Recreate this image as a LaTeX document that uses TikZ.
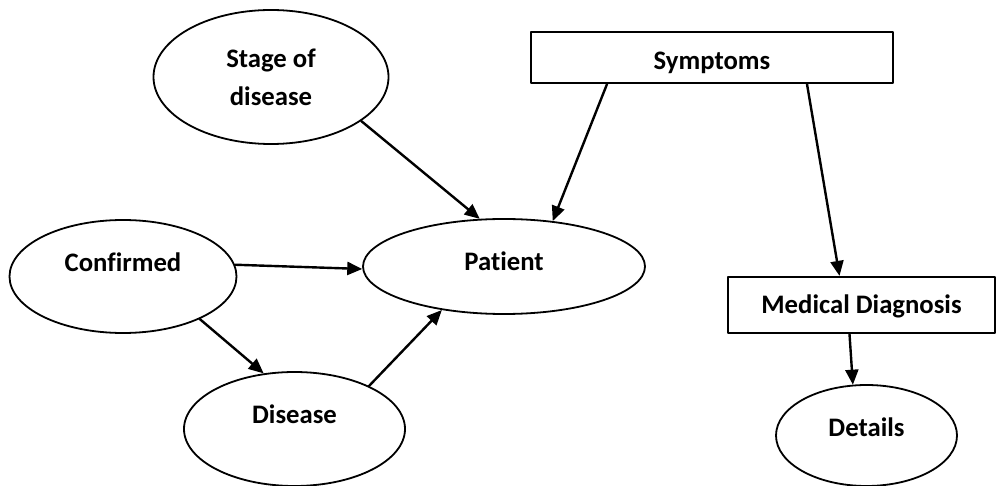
\documentclass[tikz,border=0pt]{standalone}
\usepackage{fontspec}
\setmainfont{Carlito}[Ligatures=NoCommon]
\usetikzlibrary{arrows.meta,shapes.geometric}

\tikzset{
  oval/.style={ellipse,draw,line width=1.8pt,inner sep=0pt},
  box/.style={rectangle,draw,line width=2.2pt,inner sep=0pt,text depth=0pt},
  txt/.style={font=\fontsize{26.7}{38}\selectfont\bfseries,align=center},
  link/.style={->,line width=2.4pt}
}

\begin{document}
\begin{tikzpicture}[line cap=round,line join=round,>={Triangle[length=15pt,width=13pt]},x=1pt,y=-1pt]

\useasboundingbox (0,0) rectangle (996,486);
%% ovals
\node[oval,txt,minimum width=235,minimum height=134] (stage) at (271,77) {Stage of\\disease};
\node[oval,minimum width=227,minimum height=113,label={[txt,yshift=14pt]center:Confirmed}] (conf) at (123,276.5) {};
\node[oval,minimum width=282,minimum height=95,label={[txt,yshift=5pt]center:Patient}] (pat) at (504,266.5) {};
\node[oval,minimum width=221,minimum height=114,label={[txt,yshift=15pt]center:Disease}] (dis) at (294.5,429) {};
\node[oval,minimum width=181,minimum height=101,label={[txt,yshift=8pt]center:Details}] (det) at (866.5,435.5) {};
%% boxes
\node[box,txt,text height=25pt,minimum width=362,minimum height=51] (symp) at (712,57.5) {Symptoms};
\node[box,txt,text height=18pt,minimum width=267,minimum height=56] (diag) at (861.5,305) {Medical Diagnosis};
%%%
\draw [link] (stage.-26) -- (pat.117);
\draw [link] ([xshift=-105pt]symp.south) -- (pat.43);
\draw [link] ([xshift=95pt]symp.south) -- ([xshift=-22pt]diag.north);
%%
\draw [link] (conf.6) -- (pat.181);
\draw [link] (conf.-29) -- (dis.119);
\draw [link] (dis.30) -- (pat.215);
%%
\draw [link] ([xshift=-12pt]diag.south) -- (det.105);
%%
\end{tikzpicture}
\end{document}
